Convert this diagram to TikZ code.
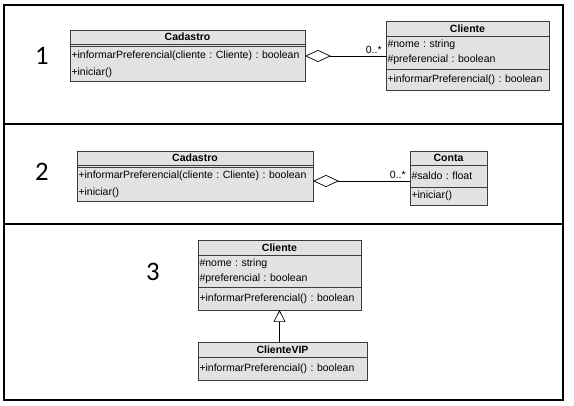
\documentclass[tikz,border=0pt]{standalone}
\usepackage{fontspec}
\setmainfont{Liberation Sans}
\newfontfamily\numfont{Carlito}
\usetikzlibrary{arrows.meta,positioning}
\definecolor{box_gray}{HTML}{E2E2E2}
\definecolor{line_gray}{HTML}{3C3C3C}
\frenchspacing

\begin{document}
\begin{tikzpicture}[
        x=1pt, y=-1pt,
        number/.style={font=\numfont\fontsize{26.7}{30}\selectfont, inner sep=0pt},
        classhead/.style={rectangle, draw=line_gray, fill=box_gray, line width=0.8pt, outer sep=0pt, inner sep=0pt, minimum height=14pt, anchor=north west, font=\fontsize{10.5}{13}\selectfont\bfseries},
        classpart/.style={rectangle, draw=line_gray, fill=box_gray, line width=0.8pt, outer sep=0pt, inner xsep=1.5pt, inner ysep=0pt, align=left, text width=#1, font=\fontsize{10.5}{15}\selectfont},
        frameline/.style={line width=1.3pt},
        aggrline/.style={-{Diamond[open, length=26pt, width=12pt]}, line width=0.7pt},
        inheritline/.style={-{Triangle[open, length=12pt, width=12pt]}, line width=0.7pt},
        multi/.style={font=\fontsize{10.5}{13}\selectfont, inner sep=0pt, anchor=south east},
    ]
        \useasboundingbox[fill=white] (0,0) rectangle (574,406);
        \draw[frameline] (4,5) rectangle (563,400);
        \draw[frameline] (4,124) -- (563,124);
        \draw[frameline] (4,224) -- (563,224);

        % part 1
        \node[number] (num1) at (42,56) {1};
        \node[classhead, minimum width=235pt] (cadhead1) at (70,30) {Cadastro};
        \node[classpart=232pt, minimum height=2.5pt, below=0pt of cadhead1] (cadattr1) {};
        \node[classpart=232pt, minimum height=35pt, below=0pt of cadattr1] (cadops1) {+informarPreferencial(cliente : Cliente) : boolean\\[2pt]+iniciar()};

        \node[classhead, minimum width=163pt, minimum height=15pt] (clihead1) at (386,21) {Cliente};
        \node[classpart=160pt, minimum height=33pt, below=0pt of clihead1] (cliattr1) {\#nome : string\\\#preferencial : boolean};
        \node[classpart=160pt, minimum height=21pt, below=0pt of cliattr1] (cliops1) {+informarPreferencial() : boolean};

        \draw[aggrline] ([yshift=-3.5pt]cliattr1.west) node[multi, xshift=-4pt, yshift=2pt] {0..*} -- ([yshift=-3.5pt]cliattr1.west -| cadops1.east);

        % part 2
        \node[number] (num2) at (42,172) {2};
        \node[classhead, minimum width=236pt] (cadhead2) at (77,151) {Cadastro};
        \node[classpart=233pt, minimum height=2.5pt, below=0pt of cadhead2] (cadattr2) {};
        \node[classpart=233pt, minimum height=33.5pt, below=0pt of cadattr2] (cadops2) {+informarPreferencial(cliente : Cliente) : boolean\\[2pt]+iniciar()};

        \node[classhead, minimum width=77pt] (contahead) at (410,151) {Conta};
        \node[classpart=74pt, minimum height=22pt, below=0pt of contahead] (contaattr) {\#saldo : float};
        \node[classpart=74pt, minimum height=18pt, below=0pt of contaattr] (contaops) {+iniciar()};

        \draw[aggrline] ([yshift=-5pt]contaattr.west) node[multi, xshift=-4pt, yshift=2pt] {0..*} -- ([yshift=-5pt]contaattr.west -| cadops2.east);

        % part 3
        \node[number] (num3) at (153,272) {3};
        \node[classhead, minimum width=163pt, minimum height=15pt] (clihead3) at (198,240) {Cliente};
        \node[classpart=160pt, minimum height=32pt, below=0pt of clihead3] (cliattr3) {\#nome : string\\\#preferencial : boolean};
        \node[classpart=160pt, minimum height=23pt, below=0pt of cliattr3] (cliops3) {+informarPreferencial() : boolean};

        \node[classhead, minimum width=169pt, minimum height=15pt] (viphead) at (198,342) {ClienteVIP};
        \node[classpart=166pt, minimum height=23pt, below=0pt of viphead] (vipops) {+informarPreferencial() : boolean};

        \draw[inheritline] (cliops3.south |- viphead.north) -- (cliops3.south);
\end{tikzpicture}
\end{document}
